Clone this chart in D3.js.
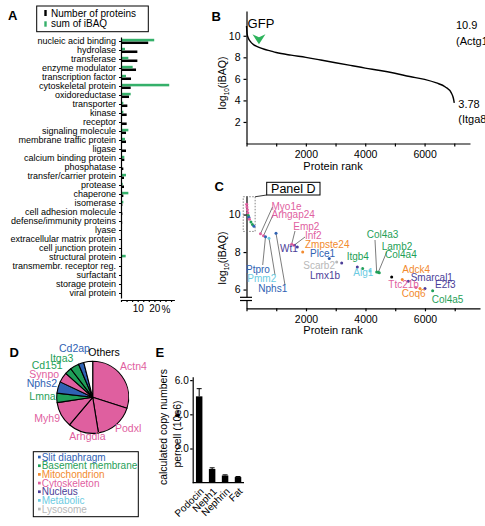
<!DOCTYPE html>
<html>
<head>
<meta charset="utf-8">
<script src="https://cdn.jsdelivr.net/npm/d3@7"></script>
<style>
body { margin: 0; background: #fff; }
svg { font-family: "Liberation Sans", Arial, sans-serif; }
.axis path, .axis line { stroke: #000; stroke-width: 1.2; }
.axis text { font-family: "Liberation Sans", Arial, sans-serif; fill: #000; }
</style>
</head>
<body>
<div id="fig"></div>
<script>
// ---- panel A : protein classes (% of proteins / % of summed iBAQ)
var categories = ["nucleic acid binding","hydrolase","transferase","enzyme modulator","transcription factor",
	"cytoskeletal protein","oxidoreductase","transporter","kinase","receptor","signaling molecule",
	"membrane traffic protein","ligase","calcium binding protein","phosphatase","transfer/carrier protein",
	"protease","chaperone","isomerase","cell adhesion molecule","defense/immunity proteins","lyase",
	"extracellular matrix protein","cell junction protein","structural protein","transmembr. receptor reg.",
	"surfactant","storage protein","viral protein"];
var pctProteins = [16.3,9.8,9.8,9.0,6.0,5.8,4.8,3.8,3.4,3.4,3.0,3.0,3.0,2.0,1.4,1.8,1.8,1.4,0.8,0.8,0.7,0.6,0.6,0.5,0.5,0.4,0.3,0.2,0.2];
var pctIBAQ = [19.9,2.4,4.4,7.0,3.0,28.9,5.8,1.4,1.4,0.4,4.4,2.4,0.6,2.0,0.4,3.0,1.0,4.4,1.4,0.2,0.1,0.5,0.2,0.1,2.8,0.1,0.05,0.05,0.02];
var pctTicks = [0,10/3,20/3,10,40/3,50/3,20,70/3,80/3,30];

// ---- panel B : ranked abundance curve
var curveRank = [1,20,60,120,250,400,600,800,1000,1500,2000,2500,3000,3500,4000,4500,5000,5500,6000,6400,6700,6900,6970,7000];
var curveLog = [10.9,10.2,9.8,9.5,9.15,8.95,8.75,8.6,8.45,8.2,8.0,7.75,7.5,7.25,7.0,6.78,6.52,6.22,5.95,5.62,5.25,4.7,4.2,3.78];
var gfpRank = 420, gfpLog = 8.93;

// ---- panel C : selected podocyte proteins
var cNames = ["Actn4","Podxl","Arhgdia","Myh9","Lmna","Nphs2","Synpo","Cd151","Itga3","Cd2ap",
	"Myo1e","Arhgap24","Ptpro","Pmm2","Nphs1","Emp2","Inf2","Wt1","Zmpste24","Plce1","Scarb2","Lmx1b","",
	"Itgb4","Alg1","Col4a3","Lamb2","Col4a4","","Adck4","Smarcal1","Ttc21b","Coq6","E2f3","Col4a5"];
var cRank = [5,15,30,45,60,80,100,150,200,250,
	470,571,639,756,992,1519,1597,1708,1889,2783,3032,3200,3725,
	3905,4151,4376,4430,4465,4880,5237,5439,5697,5832,6000,6258];
var cLog = [10.55,10.4,10.25,10.1,9.95,9.85,9.75,9.6,9.47,9.37,
	8.98,8.87,8.82,8.74,9.0,8.42,8.36,8.27,8.0,7.65,7.47,7.42,7.2,
	7.12,6.99,6.94,6.92,6.9,6.67,6.53,6.44,6.11,6.05,6.05,5.93];
var cGroup = ["cyto","cyto","cyto","cyto","bm","slit","cyto","bm","bm","slit",
	"cyto","cyto","slit","meta","slit","cyto","cyto","nuc","mito","slit","lyso","nuc","nuc",
	"bm","meta","bm","bm","bm","other","mito","nuc","cyto","mito","nuc","bm"];

// ---- panel D : top ten proteins share
var pieNames = ["Actn4","Podxl","Arhgdia","Myh9","Lmna","Nphs2","Synpo","Cd151","Itga3","Cd2ap","Others"];
var pieValues = [29.8,17.5,13.7,11.4,4.2,5.2,4.5,3.0,4.0,2.4,4.0];
var pieGroup = ["cyto","cyto","cyto","cyto","bm","slit","cyto","bm","bm","slit","others"];

var groupKeys = ["slit","bm","mito","cyto","nuc","meta","lyso"];
var groupLabels = ["Slit diaphragm","Basement membrane","Mitochondrion","Cytoskeleton","Nucleus","Metabolic","Lysosome"];

// ---- panel E : copy numbers per cell
var eNames = ["Podocin","Neph1","Nephrin","Fat"];
var eValues = [5.05,0.8,0.42,0.33];
var eErrors = [0.45,0.07,0.04,0.03];

var colors = {slit:"#2f62b3", bm:"#1f9f58", mito:"#f28a2e", cyto:"#df5f9f", nuc:"#4b3d98",
	meta:"#6ccbe2", lyso:"#b8b8b8", other:"#000", others:"#fff"};
var green = "#35b06a";

var svg = d3.select("#fig").append("svg").attr("width", 485).attr("height", 526);

function letter(t, x, y) {
	svg.append("text").attr("x", x).attr("y", y).attr("font-size", 13)
		.attr("font-weight", "bold").text(t);
}

function logLabel(x, y) {
	var t = svg.append("text").attr("transform", "translate(" + x + "," + y + ") rotate(-90)")
		.attr("text-anchor", "middle").attr("font-size", 10.5);
	t.append("tspan").text("log");
	t.append("tspan").attr("font-size", 6.5).attr("dy", 3).text("10");
	t.append("tspan").attr("dy", -3).text("(iBAQ)");
}

// ================= A
letter("A", 8, 20);

var xA = d3.scaleLinear().domain([0, 32]).range([121, 174.4]);
var yA = d3.scaleBand().domain(categories).range([37, 298]);
var sub = d3.scaleBand().domain(["iBAQ", "proteins"]).range([yA.bandwidth() * 0.2, yA.bandwidth() * 0.78]).paddingInner(0.05);

var gA = svg.append("g");
gA.selectAll(".barP").data(categories).enter().append("rect")
	.attr("x", xA(0)).attr("y", function(d) { return yA(d) + sub("proteins"); })
	.attr("width", function(d, i) { return xA(pctProteins[i]) - xA(0); })
	.attr("height", sub.bandwidth()).attr("fill", "#000");
gA.selectAll(".barI").data(categories).enter().append("rect")
	.attr("x", xA(0)).attr("y", function(d) { return yA(d) + sub("iBAQ"); })
	.attr("width", function(d, i) { return xA(pctIBAQ[i]) - xA(0); })
	.attr("height", sub.bandwidth()).attr("fill", green);

gA.append("g").attr("class", "axis").attr("transform", "translate(" + xA(0) + ",0)")
	.call(d3.axisLeft(yA).tickSize(2).tickPadding(3).tickSizeOuter(0))
	.selectAll("text").attr("font-size", 9);
gA.append("g").attr("class", "axis").attr("transform", "translate(0,300)")
	.call(d3.axisBottom(xA).tickValues(pctTicks).tickSize(2).tickPadding(3).tickSizeOuter(0)
		.tickFormat(function(d) { return (Math.abs(d - 10) < 0.01 || Math.abs(d - 20) < 0.01) ? d3.format("d")(d) : ""; }))
	.selectAll("text").attr("font-size", 10);
svg.append("text").attr("x", xA(20) + 7).attr("y", 313).attr("font-size", 10).text("%");

// legend A
svg.append("rect").attr("x", 36.7).attr("y", 6).attr("width", 111.6).attr("height", 25.7)
	.attr("fill", "none").attr("stroke", "#000").attr("stroke-width", 1);
svg.append("rect").attr("x", 44.3).attr("y", 10).attr("width", 2.4).attr("height", 6).attr("fill", "#000");
svg.append("rect").attr("x", 44.3).attr("y", 21.3).attr("width", 2.4).attr("height", 5.4).attr("fill", green);
svg.append("text").attr("x", 51).attr("y", 16.7).attr("font-size", 10).text("Number of proteins");
svg.append("text").attr("x", 51).attr("y", 27.3).attr("font-size", 10).text("sum of iBAQ");

// ================= B
letter("B", 211.5, 20.5);
var xB = d3.scaleLinear().domain([0, 7530]).range([246.5, 470]);
var yB = d3.scaleLinear().domain([0, 12.3]).range([143.5, 11]);
var gB = svg.append("g");
gB.append("g").attr("class", "axis").attr("transform", "translate(0,143.5)")
	.call(d3.axisBottom(xB).tickValues(d3.range(0, 7001, 1000)).tickSize(3).tickPadding(4).tickSizeOuter(0)
		.tickFormat(function(d) { return (d > 0 && d % 2000 === 0) ? d : ""; }))
	.selectAll("text").attr("font-size", 10.5);
gB.append("g").attr("class", "axis").attr("transform", "translate(246.5,0)")
	.call(d3.axisLeft(yB).tickValues([2, 4, 6, 8, 10]).tickSize(3).tickPadding(3).tickSizeOuter(0))
	.selectAll("text").attr("font-size", 10.5);
gB.selectAll(".domain").attr("stroke-width", 1.5);

var line = d3.line().x(function(d) { return xB(d[0]); }).y(function(d) { return yB(d[1]); }).curve(d3.curveMonotoneX);
gB.append("path").datum(d3.zip(curveRank, curveLog)).attr("d", line)
	.attr("fill", "none").attr("stroke", "#000").attr("stroke-width", 1.4);

// GFP arrow
var gx = xB(gfpRank), gy = yB(gfpLog) - 3;
gB.append("path").attr("d", "M" + gx + "," + gy + " l-6.5,-10 l6.5,3 l6.5,-3 z").attr("fill", "#2db35b");
gB.append("text").attr("x", gx + 2).attr("y", 28).attr("text-anchor", "middle").attr("font-size", 13).text("GFP");
gB.append("text").attr("x", 456).attr("y", 29.3).attr("font-size", 11).text("10.9");
gB.append("text").attr("x", 456).attr("y", 45).attr("font-size", 11).text("(Actg1");
gB.append("text").attr("x", 458.3).attr("y", 108.3).attr("font-size", 11).text("3.78");
gB.append("text").attr("x", 458.3).attr("y", 123.3).attr("font-size", 11).text("(Itga8");
logLabel(226, 83);
svg.append("text").attr("x", 333).attr("y", 170).attr("text-anchor", "middle").attr("font-size", 11).text("Protein rank");

// ================= C
letter("C", 214.5, 190.5);
var xC = d3.scaleLinear().domain([0, 7850]).range([246.5, 480]);
var yC = d3.scaleLinear().domain([5, 11]).range([308.3, 195.8]);
var gC = svg.append("g");
gC.append("g").attr("class", "axis").attr("transform", "translate(0,308.3)")
	.call(d3.axisBottom(xC).tickValues(d3.range(0, 7001, 1000)).tickSize(3).tickPadding(4).tickSizeOuter(0)
		.tickFormat(function(d) { return (d > 0 && d % 2000 === 0) ? d : ""; }))
	.selectAll("text").attr("font-size", 10.5);
gC.append("g").attr("class", "axis").attr("transform", "translate(246.5,0)")
	.call(d3.axisLeft(yC).tickValues([6, 8, 10]).tickFormat(d3.format("d")).tickSize(3).tickPadding(3).tickSizeOuter(0))
	.selectAll("text").attr("font-size", 10.5);
gC.selectAll(".domain").attr("stroke-width", 1.5);
// axis break
var yb = yC(5.5);
gC.append("rect").attr("x", 244).attr("y", yb - 1.6).attr("width", 5).attr("height", 3.2).attr("fill", "#fff");
gC.append("line").attr("x1", 240).attr("x2", 252).attr("y1", yb - 1.6).attr("y2", yb - 1.6).attr("stroke", "#000").attr("stroke-width", 1.2);
gC.append("line").attr("x1", 240).attr("x2", 252).attr("y1", yb + 1.6).attr("y2", yb + 1.6).attr("stroke", "#000").attr("stroke-width", 1.2);
logLabel(226, 258);
svg.append("text").attr("x", 333).attr("y", 334).attr("text-anchor", "middle").attr("font-size", 11).text("Protein rank");

// dotted box of the ten most abundant + "Panel D" box
var bx0 = xC(-110), bx1 = xC(290), by0 = yC(10.95), by1 = yC(9.1);
gC.append("rect").attr("x", bx0).attr("y", by0).attr("width", bx1 - bx0).attr("height", by1 - by0)
	.attr("fill", "none").attr("stroke", "#777").attr("stroke-width", 0.9).attr("stroke-dasharray", "1.5,1.5");
gC.append("rect").attr("x", 266.7).attr("y", 182.3).attr("width", 53.3).attr("height", 12.7)
	.attr("fill", "#fff").attr("stroke", "#000").attr("stroke-width", 1);
gC.append("text").attr("x", 293.3).attr("y", 192.5).attr("text-anchor", "middle").attr("font-size", 12.5).text("Panel D");
gC.append("line").attr("x1", bx1).attr("y1", by0).attr("x2", 266.7).attr("y2", 195)
	.attr("stroke", "#000").attr("stroke-width", 0.8);

// label layout: text x, baseline y, optional leader end
var cLabelPos = {
	Myo1e: [271.5, 210, 272.5, 207],
	Arhgap24: [271.5, 217.7, 273, 215],
	Ptpro: [246, 273.3, 262.7, 265],
	Pmm2: [247.3, 282.3, 275, 275],
	Nphs1: [258.3, 292.3, 285, 285],
	Emp2: [293.3, 230, 295, 231],
	Inf2: [305, 239.3, 305, 237],
	Wt1: [280, 251.7],
	Zmpste24: [305, 247.7],
	Plce1: [310, 256.7],
	Scarb2: [303.3, 269.3],
	Lmx1b: [310, 279],
	Itgb4: [346.7, 260],
	Alg1: [353.3, 275.7],
	Col4a3: [366.7, 238.3, 375, 240],
	Lamb2: [381.7, 250, 386.7, 252],
	Col4a4: [385, 258.3],
	Adck4: [402.3, 273.3],
	Smarcal1: [410.7, 281],
	Ttc21b: [388.3, 288.3],
	E2f3: [435, 288.3],
	Coq6: [401.7, 296.7],
	Col4a5: [431.7, 302.7]
};

cNames.forEach(function(n, i) {
	var p = cLabelPos[n];
	if (p && p.length > 2) {
		gC.append("line").attr("x1", xC(cRank[i])).attr("y1", yC(cLog[i])).attr("x2", p[2]).attr("y2", p[3])
			.attr("stroke", "#444").attr("stroke-width", 0.7);
	}
});
gC.selectAll(".dot").data(cNames).enter().append("circle")
	.attr("cx", function(d, i) { return xC(cRank[i]); })
	.attr("cy", function(d, i) { return yC(cLog[i]); })
	.attr("r", 1.5)
	.attr("fill", function(d, i) { return colors[cGroup[i]]; });
cNames.forEach(function(n, i) {
	var p = cLabelPos[n];
	if (!p) return;
	gC.append("text").attr("x", p[0]).attr("y", p[1]).attr("font-size", 10)
		.attr("fill", colors[cGroup[i]]).text(n);
});

// ================= D
letter("D", 9.5, 357);
var pie = d3.pie().sort(null).value(function(d) { return d; });
var arc = d3.arc().innerRadius(0).outerRadius(36);
var gD = svg.append("g").attr("transform", "translate(92.7,397.3)");
gD.selectAll("path").data(pie(pieValues)).enter().append("path")
	.attr("d", arc)
	.attr("fill", function(d, i) { return colors[pieGroup[i]]; })
	.attr("stroke", "#000").attr("stroke-width", 1.1).attr("stroke-linejoin", "round");

var pieLabelPos = {
	Actn4: [120, 370], Podxl: [115, 431.7], Arhgdia: [69.3, 440], Myh9: [34.3, 421.7],
	Lmna: [29.3, 400], Nphs2: [26.7, 387.3], Synpo: [29.3, 377.7], Cd151: [31.7, 369.3],
	Itga3: [50, 361.7], Cd2ap: [59, 352], Others: [88.3, 355.7]
};
pieNames.forEach(function(n, i) {
	var p = pieLabelPos[n];
	svg.append("text").attr("x", p[0]).attr("y", p[1]).attr("font-size", 10.5)
		.attr("fill", pieGroup[i] === "others" ? "#000" : colors[pieGroup[i]]).text(n);
});

// legend D
svg.append("rect").attr("x", 33.3).attr("y", 451.7).attr("width", 105).attr("height", 65)
	.attr("fill", "none").attr("stroke", "#000").attr("stroke-width", 1);
groupKeys.forEach(function(k, i) {
	var yy = 460.7 + i * 8.67;
	svg.append("rect").attr("x", 38).attr("y", yy - 5).attr("width", 2.7).attr("height", 2.7).attr("fill", colors[k]);
	svg.append("text").attr("x", 41.7).attr("y", yy).attr("font-size", 10).attr("fill", colors[k]).text(groupLabels[i]);
});

// ================= E
letter("E", 155.5, 357);
var xE = d3.scaleBand().domain(eNames).range([192.7, 244.5]).paddingInner(0.5).paddingOuter(0.25);
var yE = d3.scaleLinear().domain([0, 6.2]).range([482.7, 376.7]);
var gE = svg.append("g");
gE.selectAll(".bar").data(eNames).enter().append("rect")
	.attr("x", function(d) { return xE(d); })
	.attr("y", function(d, i) { return yE(eValues[i]); })
	.attr("width", xE.bandwidth())
	.attr("height", function(d, i) { return yE(0) - yE(eValues[i]); })
	.attr("fill", "#000");
eNames.forEach(function(n, i) {
	var cx = xE(n) + xE.bandwidth() / 2;
	gE.append("line").attr("x1", cx).attr("x2", cx).attr("y1", yE(eValues[i])).attr("y2", yE(eValues[i] + eErrors[i]))
		.attr("stroke", "#000").attr("stroke-width", 1);
	gE.append("line").attr("x1", cx - 2.5).attr("x2", cx + 2.5).attr("y1", yE(eValues[i] + eErrors[i])).attr("y2", yE(eValues[i] + eErrors[i]))
		.attr("stroke", "#000").attr("stroke-width", 1);
});
gE.append("g").attr("class", "axis").attr("transform", "translate(192.7,0)")
	.call(d3.axisLeft(yE).tickValues([2, 4, 6]).tickSize(2.5).tickPadding(1.5).tickSizeOuter(0))
	.selectAll("text").attr("font-size", 10);
gE.append("line").attr("x1", 192.7).attr("x2", 244).attr("y1", yE(0)).attr("y2", yE(0))
	.attr("stroke", "#000").attr("stroke-width", 1.2);
eNames.forEach(function(n) {
	var cx = xE(n) + xE.bandwidth() / 2;
	gE.append("text").attr("transform", "translate(" + (cx + 1) + "," + (yE(0) + 5) + ") rotate(-45)")
		.attr("text-anchor", "end").attr("dy", "0.6em").attr("font-size", 10).text(n);
});
svg.append("text").attr("transform", "translate(167,427) rotate(-90)").attr("text-anchor", "middle")
	.attr("font-size", 10.5).text("calculated copy numbers");
svg.append("text").attr("transform", "translate(181,434) rotate(-90)").attr("text-anchor", "middle")
	.attr("font-size", 10.5).text("per cell (10e6)");
</script>
</body>
</html>
